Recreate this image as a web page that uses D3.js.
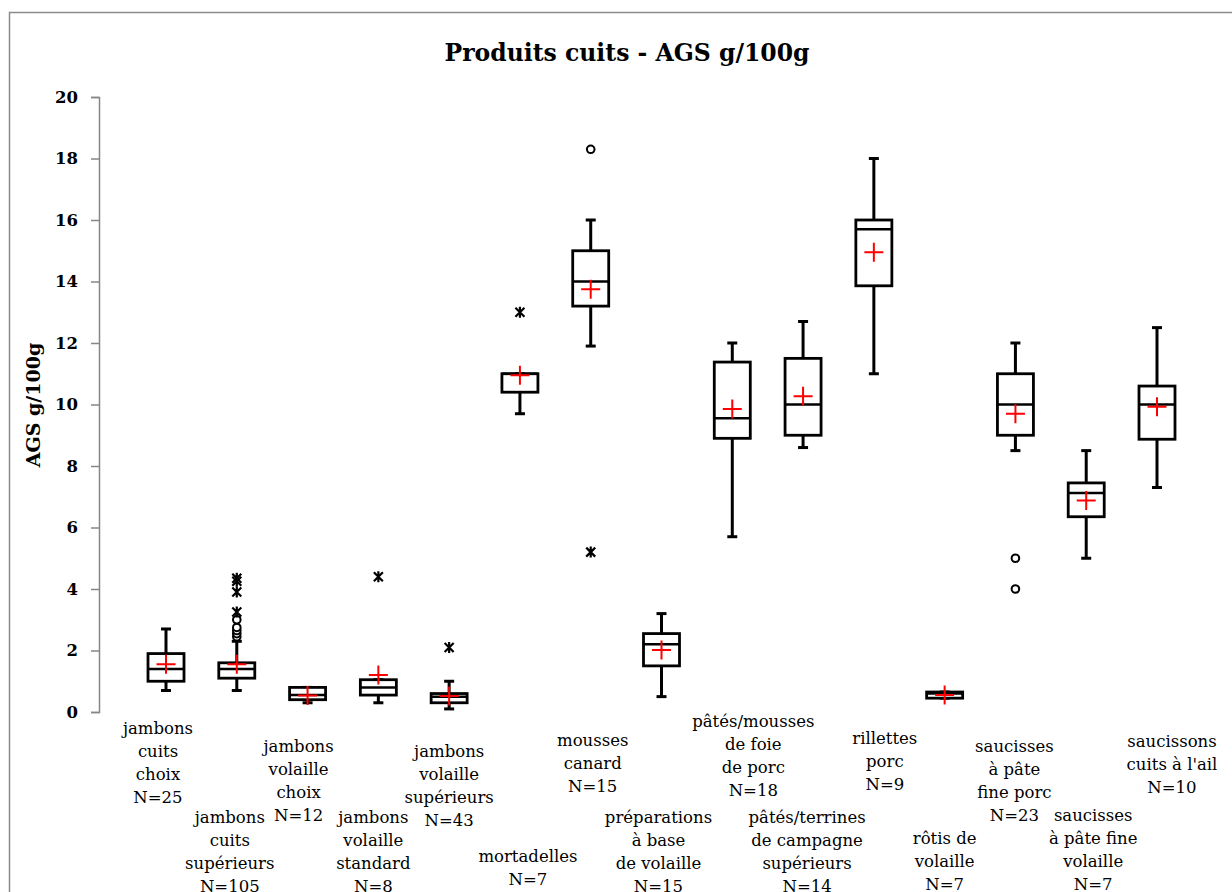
<!DOCTYPE html>
<html><head><meta charset="utf-8">
<script src="https://cdn.jsdelivr.net/npm/d3@7"></script>
<style>
html,body{margin:0;padding:0;background:#fff;}
svg{display:block;}
</style></head>
<body>
<script>
// ---- data ----
const categories = [
  ["jambons","cuits","choix"],
  ["jambons","cuits","supérieurs"],
  ["jambons","volaille","choix"],
  ["jambons","volaille","standard"],
  ["jambons","volaille","supérieurs"],
  ["mortadelles"],
  ["mousses","canard"],
  ["préparations","à base","de volaille"],
  ["pâtés/mousses","de foie","de porc"],
  ["pâtés/terrines","de campagne","supérieurs"],
  ["rillettes","porc"],
  ["rôtis de","volaille"],
  ["saucisses","à pâte","fine porc"],
  ["saucisses","à pâte fine","volaille"],
  ["saucissons","cuits à l'ail"]
];
const counts      = [25,105,12,8,43,7,15,15,18,14,9,7,23,7,10];
const whiskerLow  = [0.7,0.7,0.3,0.3,0.1,9.7,11.9,0.5,5.7,8.6,11.0,0.45,8.5,5.0,7.3];
const q1          = [1.0,1.1,0.4,0.55,0.3,10.4,13.2,1.5,8.9,9.0,13.86,0.45,9.0,6.35,8.87];
const medians     = [1.4,1.4,0.55,0.8,0.5,11.0,14.0,2.2,9.55,10.0,15.7,0.6,10.0,7.12,10.0];
const q3          = [1.9,1.6,0.8,1.05,0.6,11.0,15.0,2.55,11.38,11.5,16.0,0.65,11.0,7.45,10.6];
const whiskerHigh = [2.7,2.3,0.8,1.05,1.0,11.0,16.0,3.2,12.0,12.7,18.0,0.65,12.0,8.5,12.5];
const means       = [1.55,1.55,0.54,1.2,0.52,10.95,13.75,2.02,9.85,10.27,14.95,0.55,9.7,6.88,9.93];
const outlierCircles = [[],[2.45,2.55,2.65,2.75,3.0],[],[],[],[],[18.3],[],[],[],[],[],[5.0,4.0],[],[]];
const outlierStars   = [[],[3.25,3.9,4.25,4.35],[],[4.4],[2.1],[13.0],[5.2],[],[],[],[],[],[],[],[]];
const yTicks = [0,2,4,6,8,10,12,14,16,18,20];
const title = "Produits cuits - AGS g/100g";
const yTitle = "AGS g/100g";

// ---- layout (label placement) ----
const labelDx  = [-8,-7,-9,-5,0,8,2,-3,21,4,11,0,-1,7,15];
const labelTop = [728,817,746,817,751,856,740,817,721,817,738,838,746,815,741];
const lineH = 23;

const W = 1232, H = 892;
const svg = d3.select("body").append("svg").attr("width",W).attr("height",H);

// outer frame
svg.append("rect").attr("x",9.5).attr("y",12.5).attr("width",W+20).attr("height",H+20)
  .attr("fill","none").attr("stroke","#8c8c8c").attr("stroke-width",1.5);

const idx = d3.range(categories.length);
const x = d3.scalePoint().domain(idx).range([166,1157]);
const y = d3.scaleLinear().domain([0,20]).range([712,97]);

// title
svg.append("text").attr("x",627).attr("y",61).attr("text-anchor","middle")
  .attr("font-family","DejaVu Serif").attr("font-weight","bold").attr("font-size",23.5)
  .text(title);

// y axis
const yAxis = d3.axisLeft(y).tickValues(yTicks).tickSize(8).tickPadding(13).tickFormat(d3.format("d"));
const gy = svg.append("g").attr("transform","translate(99,0)").call(yAxis);
gy.select(".domain").attr("stroke","#868686").attr("stroke-width",1.5);
gy.selectAll(".tick line").attr("stroke","#868686").attr("stroke-width",1.5);
gy.selectAll(".tick text").attr("font-family","DejaVu Serif").attr("font-weight","bold")
  .attr("font-size",16.5).attr("fill","#000");

svg.append("text").attr("transform","translate(40,405) rotate(-90)").attr("text-anchor","middle")
  .attr("font-family","DejaVu Serif").attr("font-weight","bold").attr("font-size",19)
  .text(yTitle);

const bw = 36, cap = 5;
const g = svg.append("g");
idx.forEach(i => {
  const cx = x(i);
  const gg = g.append("g");
  // whiskers
  gg.append("line").attr("x1",cx).attr("x2",cx).attr("y1",y(q3[i])).attr("y2",y(whiskerHigh[i]))
    .attr("stroke","#000").attr("stroke-width",3);
  gg.append("line").attr("x1",cx).attr("x2",cx).attr("y1",y(q1[i])).attr("y2",y(whiskerLow[i]))
    .attr("stroke","#000").attr("stroke-width",3);
  [whiskerHigh[i], whiskerLow[i]].forEach(v => {
    gg.append("line").attr("x1",cx-cap).attr("x2",cx+cap).attr("y1",y(v)).attr("y2",y(v))
      .attr("stroke","#000").attr("stroke-width",3);
  });
  // box
  gg.append("rect").attr("x",cx-bw/2).attr("y",y(q3[i])).attr("width",bw)
    .attr("height",Math.max(0,y(q1[i])-y(q3[i]))).attr("fill","#fff")
    .attr("stroke","#000").attr("stroke-width",2.8);
  gg.append("line").attr("x1",cx-bw/2).attr("x2",cx+bw/2).attr("y1",y(medians[i])).attr("y2",y(medians[i]))
    .attr("stroke","#000").attr("stroke-width",2.5);
  // outliers
  outlierCircles[i].forEach(v => {
    gg.append("circle").attr("cx",cx).attr("cy",y(v)).attr("r",3.8)
      .attr("fill","#fff").attr("stroke","#000").attr("stroke-width",2);
  });
  outlierStars[i].forEach(v => {
    const yy = y(v), s = 4.5;
    gg.append("path").attr("d",`M${cx-s},${yy-s}L${cx+s},${yy+s}M${cx-s},${yy+s}L${cx+s},${yy-s}M${cx},${yy-s-1}L${cx},${yy+s+1}`)
      .attr("stroke","#000").attr("stroke-width",2.2).attr("fill","none");
  });
  // mean
  const my = y(means[i]), m = 9.5;
  gg.append("path").attr("d",`M${cx-m},${my}L${cx+m},${my}M${cx},${my-m}L${cx},${my+m}`)
    .attr("stroke","#ff0000").attr("stroke-width",2).attr("fill","none");
  // label
  const lines = categories[i].concat(["N=" + counts[i]]);
  const t = svg.append("text").attr("text-anchor","middle")
    .attr("font-family","DejaVu Serif").attr("font-size",16.5).attr("fill","#000");
  lines.forEach((ln,k) => {
    t.append("tspan").attr("x",cx+labelDx[i]).attr("y",labelTop[i]+k*lineH).attr("dy","0.35em").text(ln);
  });
});
</script>
</body></html>
